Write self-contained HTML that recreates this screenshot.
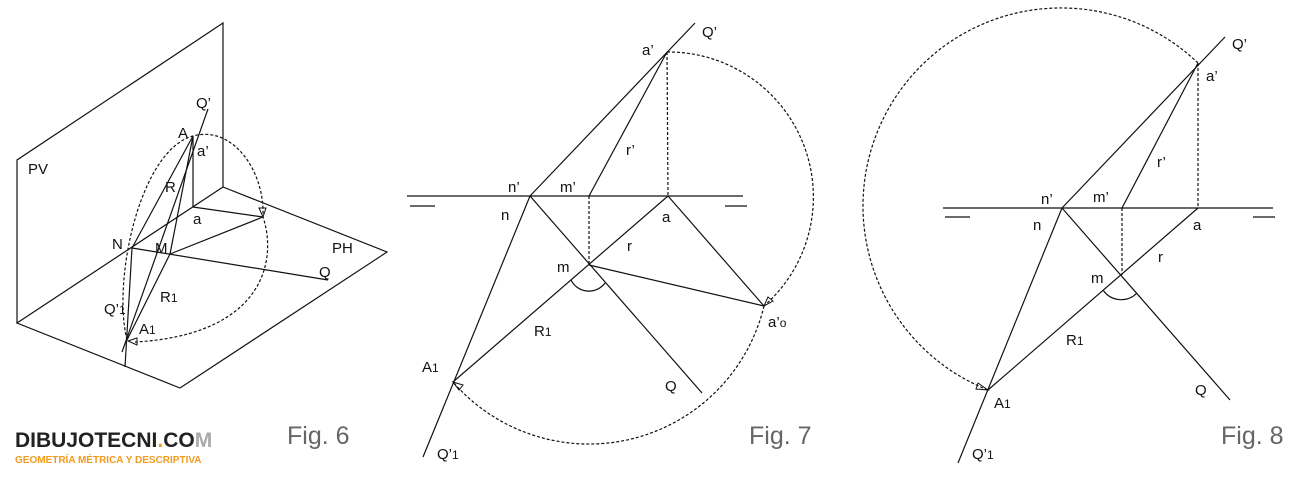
<!DOCTYPE html>
<html><head><meta charset="utf-8"><style>
html,body{margin:0;padding:0;background:#fff;}
svg{display:block;}
text{font-family:"Liberation Sans",sans-serif;fill:#111;}
.l{font-size:15px;}
.f{font-size:25px;fill:#666;}
</style></head><body>
<svg width="1300" height="484" viewBox="0 0 1300 484" xmlns="http://www.w3.org/2000/svg">
<g stroke="#111" stroke-width="1.2" fill="none">
<!-- Fig 6 -->
<polyline points="17,323 17,160 223,23 223,187"/>
<polyline points="223,187 387,252 180,388 17,323 223,187"/>
<line x1="208" y1="109" x2="122" y2="352"/>
<line x1="193" y1="136" x2="193" y2="207"/>
<line x1="193" y1="207" x2="263" y2="217"/>
<line x1="132" y1="248" x2="193" y2="136"/>
<line x1="170" y1="254" x2="193" y2="136"/>
<line x1="170" y1="254" x2="263" y2="217"/>
<line x1="132" y1="248" x2="328" y2="280"/>
<line x1="170" y1="254" x2="127" y2="340"/>
<line x1="132" y1="248" x2="125" y2="367"/>
<path d="M127,340 C112,280 140,150 193,136 C232,125 265,170 263,217 C278,262 262,335 135,342" stroke-dasharray="3,2"/>
<path d="M259,208 L263,217 L266,208 Z" stroke-width="1"/>
<path d="M137,338 L128,341 L137,345 Z" stroke-width="1"/>
<!-- Fig 7 -->
<line x1="407" y1="196" x2="743" y2="196"/>
<line x1="410" y1="206" x2="435" y2="206"/>
<line x1="725" y1="206" x2="747" y2="206"/>
<line x1="695" y1="23" x2="530" y2="196"/>
<line x1="530" y1="196" x2="423" y2="457"/>
<line x1="589" y1="196" x2="667" y2="52"/>
<line x1="667" y1="52" x2="668" y2="196" stroke-dasharray="3,2"/>
<line x1="589" y1="196" x2="589" y2="265" stroke-dasharray="3,2"/>
<line x1="530" y1="196" x2="702" y2="393"/>
<line x1="668" y1="196" x2="764" y2="306"/>
<line x1="668" y1="196" x2="453" y2="382"/>
<line x1="589" y1="265" x2="764" y2="306"/>
<path d="M571,280 A20,20 0 0 0 605,283"/>
<path d="M667,52 A145,145 0 0 1 764,306" stroke-dasharray="3,2"/>
<path d="M764,306 A180,180 0 0 1 453,382" stroke-dasharray="3,2"/>
<path d="M764,306 L768,297 L773,301 Z" stroke-width="1"/>
<path d="M453,382 L463,385 L459,390 Z" stroke-width="1"/>
<!-- Fig 8 -->
<line x1="943" y1="208" x2="1273" y2="208"/>
<line x1="945" y1="217" x2="970" y2="217"/>
<line x1="1253" y1="217" x2="1275" y2="217"/>
<line x1="1225" y1="37" x2="1062" y2="208"/>
<line x1="1062" y1="208" x2="958" y2="463"/>
<line x1="1122" y1="208" x2="1198" y2="63"/>
<line x1="1198" y1="63" x2="1198" y2="208" stroke-dasharray="3,2"/>
<line x1="1122" y1="208" x2="1122" y2="275" stroke-dasharray="3,2"/>
<line x1="1062" y1="208" x2="1230" y2="400"/>
<line x1="1198" y1="208" x2="988" y2="390"/>
<path d="M1103,290 A22,22 0 0 0 1137,293"/>
<path d="M1198,63 A198,198 0 1 0 988,390" stroke-dasharray="3,2"/>
<path d="M988,390 L978,383 L976,389 Z" stroke-width="1"/>
</g>
<!-- Fig 6 labels -->
<text class="l" x="196" y="108">Q’</text>
<text class="l" x="178" y="138">A</text>
<text class="l" x="197" y="156">a’</text>
<text class="l" x="28" y="174">PV</text>
<text class="l" x="165" y="192">R</text>
<text class="l" x="193" y="224">a</text>
<text class="l" x="112" y="249">N</text>
<text class="l" x="155" y="253">M</text>
<text class="l" x="332" y="253">PH</text>
<text class="l" x="319" y="277">Q</text>
<text class="l" x="160" y="302">R<tspan font-size="12">1</tspan></text>
<text class="l" x="104" y="314">Q’<tspan font-size="12">1</tspan></text>
<text class="l" x="139" y="334">A<tspan font-size="12">1</tspan></text>
<text x="15" y="447" font-size="21" font-weight="bold" fill="#222" style="fill:#222">DIBUJOTECNI<tspan style="fill:#f29a1f">.</tspan>CO<tspan style="fill:#aaa">M</tspan></text>
<text x="15" y="463" font-size="10" font-weight="bold" style="fill:#f29a1f">GEOMETRÍA MÉTRICA Y DESCRIPTIVA</text>
<text class="f" x="287" y="444">Fig. 6</text>
<!-- Fig 7 labels -->
<text class="l" x="702" y="37">Q’</text>
<text class="l" x="642" y="55">a’</text>
<text class="l" x="626" y="155">r’</text>
<text class="l" x="508" y="192">n’</text>
<text class="l" x="560" y="192">m’</text>
<text class="l" x="501" y="220">n</text>
<text class="l" x="662" y="222">a</text>
<text class="l" x="627" y="251">r</text>
<text class="l" x="557" y="272">m</text>
<text class="l" x="534" y="336">R<tspan font-size="12">1</tspan></text>
<text class="l" x="422" y="372">A<tspan font-size="12">1</tspan></text>
<text class="l" x="665" y="391">Q</text>
<text class="l" x="768" y="327">a’<tspan font-size="12">o</tspan></text>
<text class="l" x="437" y="459">Q’<tspan font-size="12">1</tspan></text>
<text class="f" x="749" y="444">Fig. 7</text>
<!-- Fig 8 labels -->
<text class="l" x="1232" y="49">Q’</text>
<text class="l" x="1206" y="81">a’</text>
<text class="l" x="1157" y="167">r’</text>
<text class="l" x="1041" y="204">n’</text>
<text class="l" x="1093" y="202">m’</text>
<text class="l" x="1033" y="230">n</text>
<text class="l" x="1193" y="230">a</text>
<text class="l" x="1158" y="262">r</text>
<text class="l" x="1091" y="283">m</text>
<text class="l" x="1066" y="345">R<tspan font-size="12">1</tspan></text>
<text class="l" x="1195" y="395">Q</text>
<text class="l" x="994" y="408">A<tspan font-size="12">1</tspan></text>
<text class="l" x="972" y="459">Q’<tspan font-size="12">1</tspan></text>
<text class="f" x="1221" y="444">Fig. 8</text>
</svg>
</body></html>
